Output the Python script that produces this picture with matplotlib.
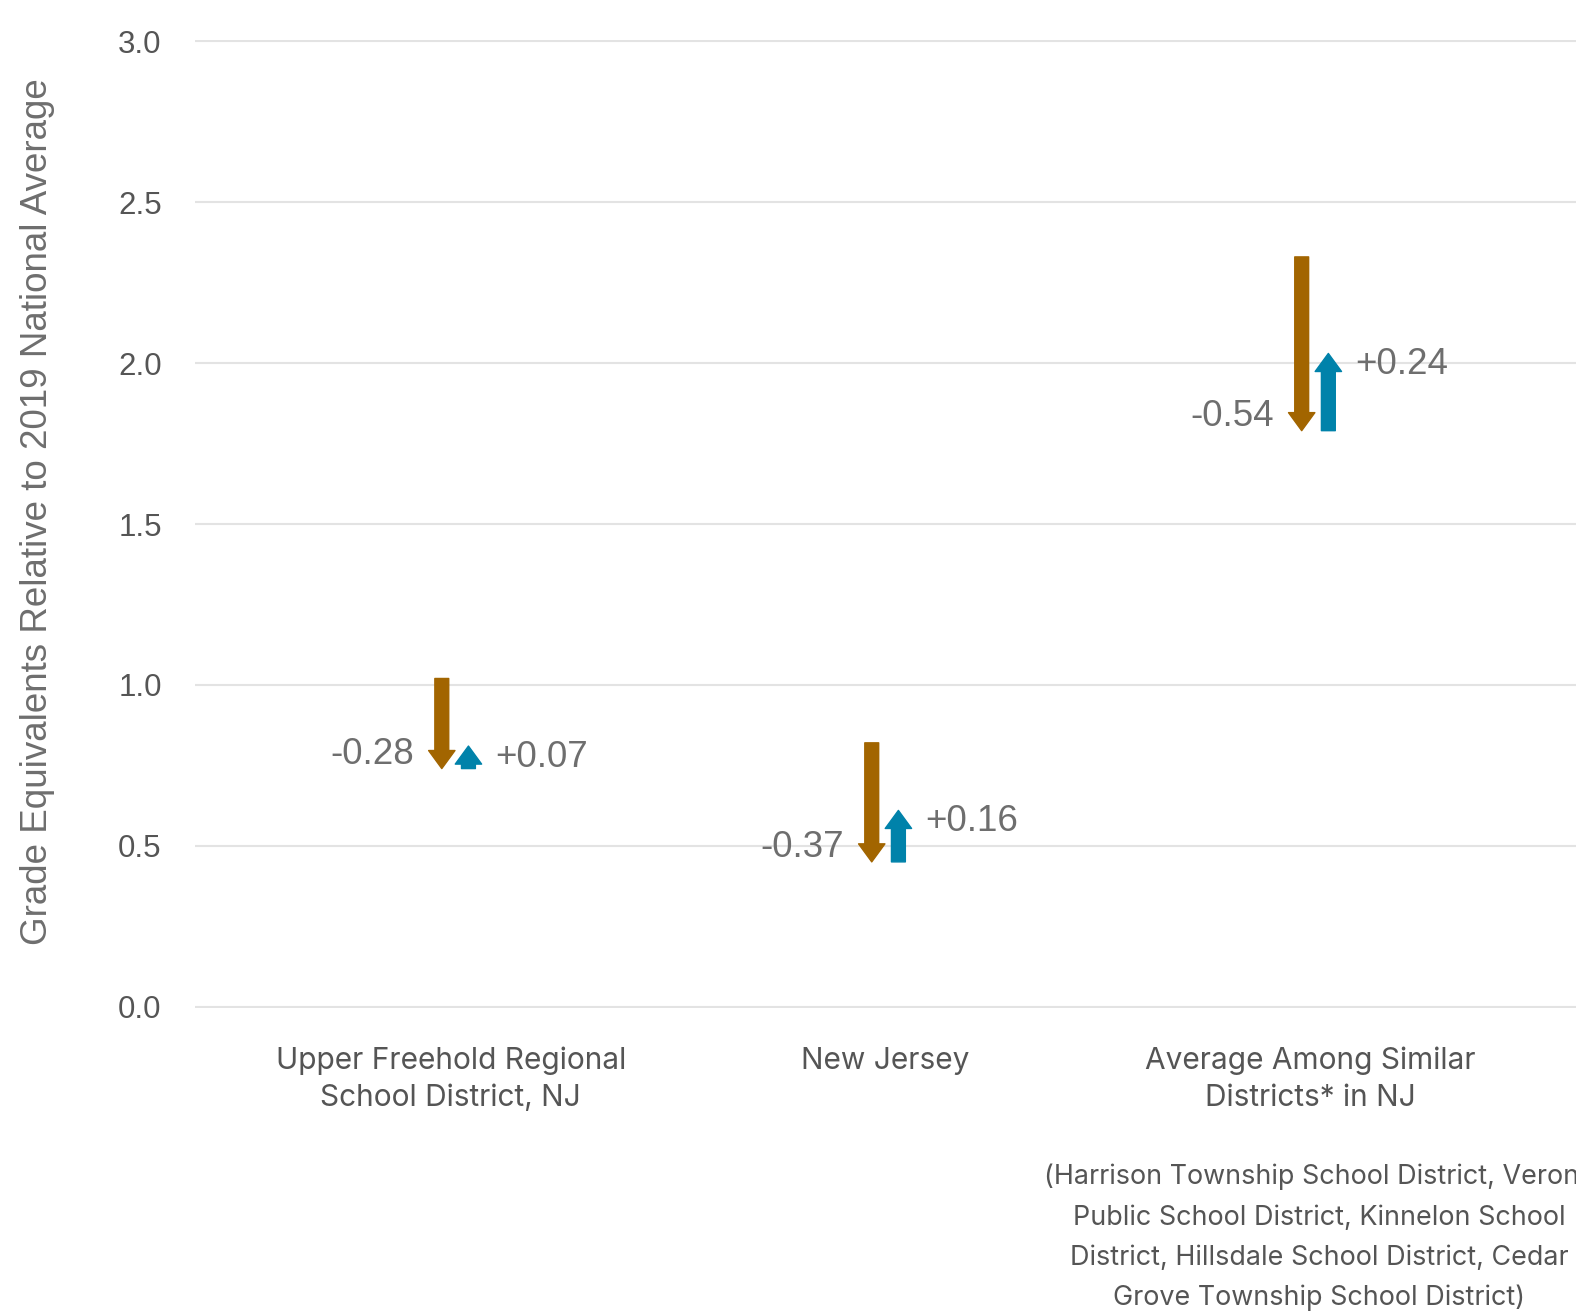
import numpy as np
import matplotlib.pyplot as plt
from matplotlib.patches import FancyArrowPatch
from matplotlib.transforms import blended_transform_factory

categories = ['Upper Freehold Regional\nSchool District, NJ',
              'New Jersey',
              'Average Among Similar\nDistricts* in NJ']
start_vals = [1.02, 0.82, 2.33]
decline = [-0.28, -0.37, -0.54]
recovery = [0.07, 0.16, 0.24]
decline_labels = ['-0.28', '-0.37', '-0.54']
recovery_labels = ['+0.07', '+0.16', '+0.24']
yticks = [0.0, 0.5, 1.0, 1.5, 2.0, 2.5, 3.0]
note = ('(Harrison Township School District, Verona\n'
        'Public School District, Kinnelon School\n'
        'District, Hillsdale School District, Cedar\n'
        'Grove Township School District)')

brown = '#a26500'
blue = '#0082aa'
gray = '#6e6e6e'

fig = plt.figure(figsize=(15.76, 13.15), dpi=100)
ax = fig.add_axes([195 / 1576, 1 - 1008 / 1315, 1 - 195 / 1576, 968 / 1315])

ax.set_xlim(-0.605, 2.607)
ax.set_ylim(-0.004, 3.004)
ax.set_yticks(yticks)
ax.set_yticklabels([f'{t:.1f}' for t in yticks], fontsize=22.5,
                   color='#555555', family='Liberation Sans')
ax.tick_params(axis='y', length=0, pad=24)
ax.set_xticks([-0.01, 1.0, 1.99])
ax.set_xticklabels(categories, fontsize=21.5, color='#555555',
                   family='Inter', linespacing=1.4)
ax.tick_params(axis='x', length=0, pad=28)
ax.grid(axis='y', color='#e3e3e3', linewidth=1.5)
ax.set_axisbelow(True)
for s in ax.spines.values():
    s.set_visible(False)

# arrows: brown = decline, blue = recovery
dx = 0.031
style = 'simple,head_length=13,head_width=19,tail_width=10'
for i in range(3):
    end = start_vals[i] + decline[i]
    top = end + recovery[i]
    a1 = FancyArrowPatch((i - dx, start_vals[i]), (i - dx, end),
                         arrowstyle=style, mutation_scale=1,
                         color=brown, shrinkA=0, shrinkB=0)
    a2 = FancyArrowPatch((i + dx, end), (i + dx, top),
                         arrowstyle=style, mutation_scale=1,
                         color=blue, shrinkA=0, shrinkB=0)
    ax.add_patch(a1)
    ax.add_patch(a2)
    ax.text(i - dx - 0.065, end + 0.045, decline_labels[i],
            ha='right', va='center', fontsize=26.5, color=gray,
            family='Liberation Sans')
    ax.text(i + dx + 0.063, top - 0.035, recovery_labels[i],
            ha='left', va='center', fontsize=26.5, color=gray,
            family='Liberation Sans')

trans = blended_transform_factory(ax.transData, fig.transFigure)
ax.text(2.01, 1 - 1164 / 1315, note, transform=trans, ha='center',
        va='top', fontsize=19.4, color='#555555', family='Inter',
        linespacing=1.7, clip_on=False)

fig.text(38 / 1576, 1 - 512 / 1315,
         'Grade Equivalents Relative to 2019 National Average',
         rotation=90, ha='center', va='center', fontsize=26.5,
         color=gray, family='Liberation Sans')

fig.savefig('out.png', dpi=100)
